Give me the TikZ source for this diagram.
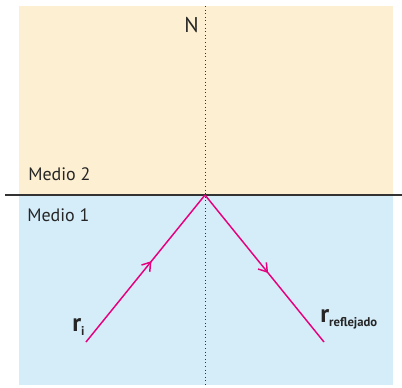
\documentclass[tikz,border=0pt]{standalone}
\usepackage{fontspec}
\setmainfont{PT Sans}
\usetikzlibrary{arrows.meta,decorations.markings}
\definecolor{medioDos}{HTML}{FDEFD2}
\definecolor{medioUno}{HTML}{D5ECF9}
\definecolor{magentaRayo}{HTML}{E6007E}
\tikzset{
  rayoluz/.style={magentaRayo,line width=1.1pt},
  flechamedio/.style={postaction={decorate},decoration={markings,
    mark=at position #1 with {\arrow{Straight Barb[length=6pt,width=8pt,line width=1.1pt]}}}},
  etiqueta/.style={font=\fontsize{13.5}{15}\selectfont,text=black!85,inner sep=0pt}
}
\begin{document}
\begin{tikzpicture}[x=0.75pt,y=-0.75pt]
  \useasboundingbox (0,0) rectangle (402,387);
  % medios
  \fill[medioDos] (19,6) rectangle (393,195);
  \fill[medioUno] (19,195) rectangle (393,385);
  % interfaz y normal
  \coordinate (P) at (205,195);
  \draw[black!80,line width=0.9pt] (5,195) -- (402,195);
  \draw[black!80,line width=0.7pt,dotted] (205,6) -- (205,387);
  % rayos
  \coordinate (inc) at (86,342);
  \coordinate (ref) at (324,342);
  \draw[rayoluz,flechamedio=0.55] (inc) -- (P);
  \draw[rayoluz,flechamedio=0.53] (P) -- (ref);
  % textos
  \node[etiqueta,font=\fontsize{16}{18}\selectfont,anchor=east] (N) at (199,25) {N};
  \node[etiqueta,anchor=west] (m2) at (28,174) {Medio 2};
  \node[etiqueta,anchor=west] (m1) at (27,215) {Medio 1};
  \node[etiqueta,anchor=base west,font=\fontsize{19}{21}\selectfont\bfseries] (ri) at (72,331)
    {r\raisebox{-3pt}{\fontsize{9.5}{10}\selectfont i}};
  \node[etiqueta,anchor=base west,font=\fontsize{19}{21}\selectfont\bfseries] (rr) at (320,322)
    {r\raisebox{-3pt}{\fontsize{9.5}{10}\selectfont reflejado}};
\end{tikzpicture}
\end{document}
